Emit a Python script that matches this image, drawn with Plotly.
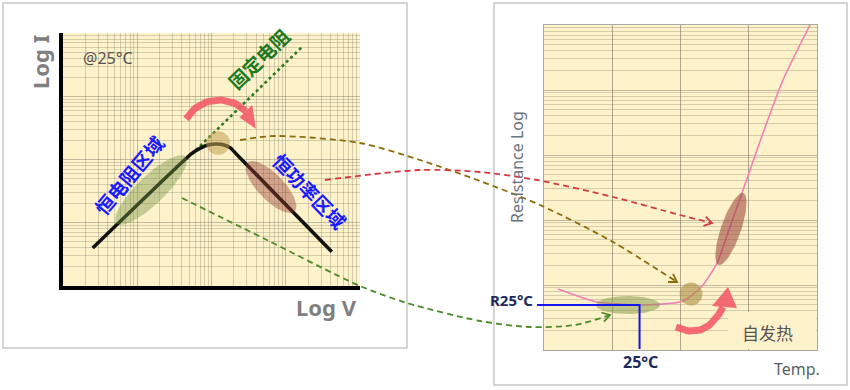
import numpy as np
import plotly.graph_objects as go

W, H = 850, 390

# ---------------- data ----------------
# Left panel: I-V characteristic of a PTC thermistor (decades of V and I)
log_v = [0.40, 1.74, 1.85, 1.95, 2.07, 2.17, 2.26, 2.34, 3.62]
log_i = [0.60, 2.10, 2.18, 2.23, 2.245, 2.23, 2.18, 2.08, 0.54]
# fixed resistor reference line
fixed_log_v = [1.73, 3.22]
fixed_log_i = [2.08, 3.78]

# Right panel: resistance vs temperature
temp = [0.205, 0.777, 1.407, 1.993, 2.154, 2.330, 2.535, 2.725, 2.916, 3.209, 3.502, 3.897]
log_r = [0.938, 0.738, 0.692, 0.738, 0.831, 1.000, 1.338, 1.892, 2.462, 3.338, 4.154, 5.000]
t_25 = 1.40
log_r_25 = 0.692

# texts
txt_logi = "Log I"
txt_logv = "Log V"
txt_at25 = "@25°C"
txt_fixed = "固定电阻"
txt_const_r = "恒电阻区域"
txt_const_p = "恒功率区域"
txt_res = "Resistance Log"
txt_temp = "Temp."
txt_r25 = "R25°C"
txt_25 = "25°C"
txt_self = "自发热"

# ---------------- geometry ----------------
LX0, LX1, LY0, LY1 = 63, 360, 33, 286
RX0, RX1, RY0, RY1 = 544, 817, 25, 350
L_DX, L_DY = 4, 4
R_TMAX, R_DEC = 4, 5

CREAM = "#fef2cb"
GRID = "rgba(120,115,95,0.42)"
GRID_MINOR = "rgba(120,115,95,0.30)"
CJK = "Noto Sans CJK SC, Noto Sans, sans-serif"
LAT = "Noto Sans, Open Sans, sans-serif"


def dom_x(a, b):
    return [a / W, b / W]


def dom_y(top, bot):
    return [(H - bot) / H, (H - top) / H]


def rpx(t, lr):
    return RX0 + t / R_TMAX * (RX1 - RX0), RY1 - lr / R_DEC * (RY1 - RY0)


def ellipse(cx, cy, a, b, ang_deg, n=80):
    t = np.linspace(0, 2 * np.pi, n)
    th = np.radians(ang_deg)
    x = cx + a * np.cos(t) * np.cos(th) - b * np.sin(t) * np.sin(th)
    y = cy + a * np.cos(t) * np.sin(th) + b * np.sin(t) * np.cos(th)
    return x, y


def chevron(tip, frm, size=9, half=32):
    d = np.array(tip, float) - np.array(frm, float)
    d /= np.linalg.norm(d)
    pts = []
    for s in (half, -half):
        a = np.radians(s)
        rot = np.array([d[0] * np.cos(a) - d[1] * np.sin(a), d[0] * np.sin(a) + d[1] * np.cos(a)])
        pts.append(np.array(tip) - size * rot)
    return [pts[0][0], tip[0], pts[1][0]], [pts[0][1], tip[1], pts[1][1]]


fig = go.Figure()
OV = dict(xaxis="x3", yaxis="y3", hoverinfo="skip", showlegend=False)

# ---- left panel traces ----
fig.add_trace(go.Scatter(x=10 ** np.array(fixed_log_v), y=10 ** np.array(fixed_log_i), mode="lines",
                         line=dict(color="#2f7a1f", width=2.6, dash="dot"), xaxis="x", yaxis="y",
                         showlegend=False, hoverinfo="skip"))
fig.add_trace(go.Scatter(x=10 ** np.array(log_v), y=10 ** np.array(log_i), mode="lines",
                         line=dict(color="#111111", width=3.5, shape="spline", smoothing=0.5),
                         xaxis="x", yaxis="y", showlegend=False, hoverinfo="skip"))

# ---- right panel trace ----
fig.add_trace(go.Scatter(x=temp, y=10 ** np.array(log_r), mode="lines",
                         line=dict(color="#f27fb5", width=1.6, shape="spline", smoothing=0.6),
                         xaxis="x2", yaxis="y2", showlegend=False, hoverinfo="skip"))

# ---- overlay decorations (pixel space) ----
# cream patch behind the "self heating" label
fig.add_trace(go.Scatter(x=[728, RX1 - 1, RX1 - 1, 728, 728], y=[312, 312, RY1 - 1, RY1 - 1, 312],
                         mode="lines", fill="toself", fillcolor=CREAM, line=dict(width=0), **OV))

# ellipses
for (cx, cy, a, b, ang, col) in [
    (151, 190, 48, 14, -44, "rgba(120,150,70,0.42)"),
    (218, 143, 12, 12, 0, "rgba(190,160,80,0.55)"),
    (271, 187, 34, 13, 46, "rgba(150,60,50,0.42)"),
    (628, 305, 32, 9, 0, "rgba(125,150,70,0.5)"),
    (691, 294, 11.5, 11.5, 0, "rgba(170,140,65,0.6)"),
    (731, 229, 38, 10, -71, "rgba(150,62,52,0.55)"),
]:
    ex, ey = ellipse(cx, cy, a, b, ang)
    fig.add_trace(go.Scatter(x=ex, y=ey, mode="lines", fill="toself", fillcolor=col,
                             line=dict(width=0), **OV))

# dashed connectors
connectors = [
    ("#8c6c0a", [(240, 140), (275, 136), (360, 143), (420, 160), (480, 181), (540, 205), (613, 242), (677, 282)]),
    ("#d63a40", [(325, 180), (420, 170), (480, 172), (537, 180), (613, 197), (680, 215), (712, 223)]),
    ("#4e8a28", [(182, 198), (267, 240), (360, 286), (407, 303), (480, 321), (530, 327), (575, 325), (610, 315)]),
]
for col, pts in connectors:
    xs = [p[0] for p in pts]
    ys = [p[1] for p in pts]
    fig.add_trace(go.Scatter(x=xs, y=ys, mode="lines",
                             line=dict(color=col, width=1.8, dash="6px,4px", shape="spline", smoothing=0.8), **OV))
    cxs, cys = chevron(pts[-1], pts[-2])
    fig.add_trace(go.Scatter(x=cxs, y=cys, mode="lines", line=dict(color=col, width=1.8), **OV))

# thick red arrow (left)
ARW = "rgba(242,88,102,0.88)"
cx, cy, r = 219, 138, 38
phi = np.radians(np.linspace(150, 45, 40))
fig.add_trace(go.Scatter(x=cx + r * np.cos(phi), y=cy - r * np.sin(phi), mode="lines",
                         line=dict(color=ARW, width=7), **OV))
b = np.radians(45)
bx, by = cx + r * np.cos(b), cy - r * np.sin(b)
rx, ry = np.cos(b), -np.sin(b)
tp = np.radians(14)
fig.add_trace(go.Scatter(x=[bx + 9 * rx, cx + r * np.cos(tp), bx - 9 * rx, bx + 9 * rx],
                         y=[by + 9 * ry, cy - r * np.sin(tp), by - 9 * ry, by + 9 * ry],
                         mode="lines", fill="toself", fillcolor=ARW, line=dict(width=0), **OV))

# thick red arrow (right, self heating)
s = np.linspace(0, 1, 40)
p0, pc, p1 = np.array([676, 327]), np.array([706, 341]), np.array([723, 307])
bez = ((1 - s) ** 2)[:, None] * p0 + (2 * (1 - s) * s)[:, None] * pc + (s ** 2)[:, None] * p1
fig.add_trace(go.Scatter(x=bez[:, 0], y=bez[:, 1], mode="lines", line=dict(color=ARW, width=7), **OV))
fig.add_trace(go.Scatter(x=[712, 728, 737, 712], y=[306, 287, 308, 306], mode="lines", fill="toself",
                         fillcolor=ARW, line=dict(width=0), **OV))

# R25 / 25°C guide lines
gx, gy = rpx(t_25, log_r_25)
fig.add_trace(go.Scatter(x=[RX0 - 7, gx, gx], y=[gy, gy, RY1 - 1], mode="lines",
                         line=dict(color="#1414f0", width=2), **OV))

# ---------------- annotations ----------------
ann = []


def A(text, x, y, size, color, angle=0, bold=False, family=LAT, xanchor="center", bg=None):
    d = dict(text=f"<b>{text}</b>" if bold else text, x=x, y=y, xref="x3", yref="y3",
             showarrow=False, textangle=angle, xanchor=xanchor, yanchor="middle",
             font=dict(size=size, color=color, family=family))
    if bg:
        d["bgcolor"] = bg
    ann.append(d)


A(txt_logi, 40, 62, 22, "#7f7f7f", angle=-90, bold=True)
A(txt_logv, 326, 307, 22, "#7f7f7f", bold=True)
A(txt_at25, 108, 58, 16, "#555555")
A(txt_fixed, 258, 58, 19, "#1f7a1f", angle=-44, bold=True, family=CJK)
A(txt_const_r, 128, 175, 19, "#1a1aff", angle=-50, bold=True, family=CJK)
A(txt_const_p, 310, 190, 19, "#1a1aff", angle=46, bold=True, family=CJK)
A(txt_res, 517, 167, 16, "#6b7280", angle=-90)
A(txt_temp, 797, 369, 16, "#5a5f68")
A(txt_r25, 535, 300, 15, "#1b2a5e", bold=True, xanchor="right")
A(txt_25, 640, 362, 16, "#1b2a5e", bold=True)
A(txt_self, 767, 332, 17, "#555555", family=CJK)

# ---------------- shapes ----------------
shapes = []


def prect(x0, y0, x1, y1, **kw):
    shapes.append(dict(type="rect", xref="paper", yref="paper", x0=x0 / W, x1=x1 / W,
                       y0=1 - y1 / H, y1=1 - y0 / H, layer="below", **kw))


prect(LX0, LY0, LX1, LY1, fillcolor=CREAM, line=dict(width=0))
prect(RX0, RY0, RX1, RY1, fillcolor=CREAM, line=dict(width=0))
prect(3, 3, 407, 348, fillcolor="rgba(0,0,0,0)", line=dict(color="#c8c8c8", width=1.5))
prect(494, 3, 847, 385, fillcolor="rgba(0,0,0,0)", line=dict(color="#c8c8c8", width=1.5))

common = dict(showticklabels=False, ticks="", zeroline=False, fixedrange=True)
minor = dict(dtick="D1", showgrid=True, gridcolor=GRID_MINOR, gridwidth=1, ticks="")

fig.update_layout(
    width=W, height=H, margin=dict(l=0, r=0, t=0, b=0),
    paper_bgcolor="white", plot_bgcolor="rgba(0,0,0,0)", showlegend=False,
    xaxis=dict(type="log", domain=dom_x(LX0, LX1), range=[0, L_DX], dtick=1, showgrid=True,
               gridcolor=GRID, minor=minor, showline=True, linecolor="black", linewidth=4,
               anchor="y", **common),
    yaxis=dict(type="log", domain=dom_y(LY0, LY1), range=[0, L_DY], dtick=1, showgrid=True,
               gridcolor=GRID, minor=minor, showline=True, linecolor="black", linewidth=4,
               anchor="x", **common),
    xaxis2=dict(domain=dom_x(RX0, RX1), range=[0, R_TMAX], dtick=1, showgrid=True,
                gridcolor="rgba(110,105,90,0.55)", gridwidth=1.4, showline=True, mirror=True,
                linecolor="#a8a8a8", linewidth=1.2, anchor="y2", **common),
    yaxis2=dict(type="log", domain=dom_y(RY0, RY1), range=[0, R_DEC], dtick=1, showgrid=True,
                gridcolor=GRID, minor=minor, showline=True, mirror=True,
                linecolor="#a8a8a8", linewidth=1.2, anchor="x2", **common),
    xaxis3=dict(domain=[0, 1], range=[0, W], visible=False, anchor="y3", fixedrange=True),
    yaxis3=dict(domain=[0, 1], range=[H, 0], visible=False, anchor="x3", fixedrange=True),
    annotations=ann, shapes=shapes,
)

fig.write_html("out.html", config={"displayModeBar": False},
               post_script="document.body.style.margin='0px';")
